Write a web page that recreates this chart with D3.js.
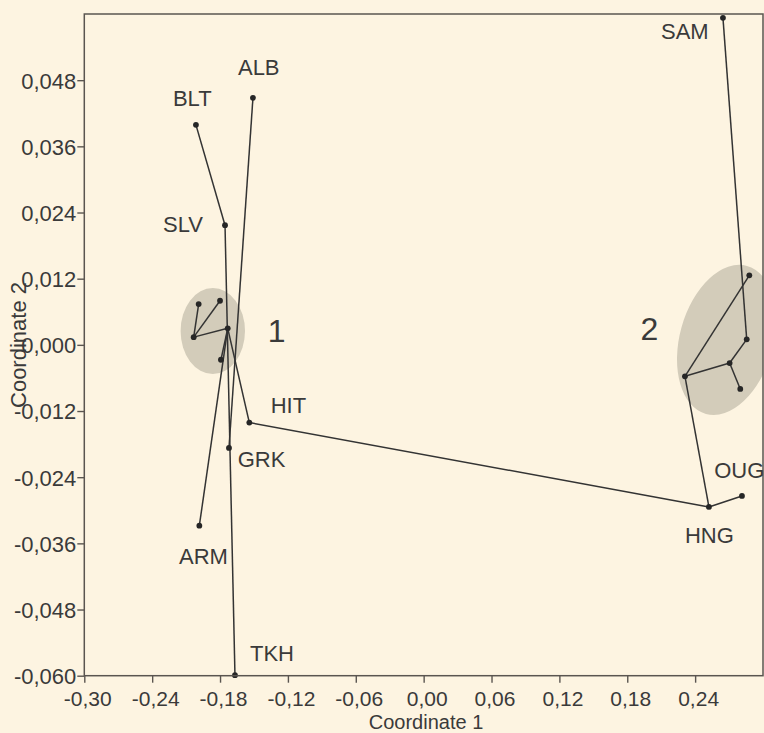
<!DOCTYPE html>
<html>
<head>
<meta charset="utf-8">
<script src="https://cdn.jsdelivr.net/npm/d3@7"></script>
<style>
  html, body { margin: 0; padding: 0; background: #FDF4E1; }
  svg { display: block; }
  text { font-family: "Liberation Sans", Arial, sans-serif; fill: #3a3a3a; }
</style>
</head>
<body>
<svg id="chart" width="764" height="733"></svg>
<script>
// ---- data ----
const names = ["SAM","ALB","BLT","SLV","C1a","C1b","C1c","C1d","C1e","HIT","GRK","ARM","TKH","HNG","OUG","C2a","C2b","C2c","C2d","C2e"];
const coord1 = [0.2646,-0.1509,-0.2013,-0.1756,-0.1989,-0.1800,-0.2033,-0.1732,-0.1792,-0.1541,-0.1721,-0.1983,-0.1668,0.2522,0.2814,0.2879,0.2856,0.2705,0.2310,0.2799];
const coord2 = [0.0593,0.0448,0.0399,0.0217,0.0074,0.0080,0.0014,0.0030,-0.0027,-0.0141,-0.0187,-0.0328,-0.0599,-0.0294,-0.0274,0.0126,0.0010,-0.0033,-0.0057,-0.0080];
const labelled = ["SAM","ALB","BLT","SLV","HIT","GRK","ARM","TKH","HNG","OUG"];
const edgeFrom = ["BLT","SLV","ALB","C1a","C1c","C1c","C1d","C1d","C1d","HIT","HNG","HNG","C2d","C2d","C2c","C2c","C2b"];
const edgeTo   = ["SLV","TKH","GRK","C1c","C1b","C1d","C1e","ARM","HIT","HNG","OUG","C2d","C2a","C2c","C2e","C2b","SAM"];
const clusterNames = ["1","2"];
const clusterX = [-0.1864, 0.2677];
const clusterY = [0.0025, 0.0009];
const xTicks = [-0.30,-0.24,-0.18,-0.12,-0.06,0.00,0.06,0.12,0.18,0.24];
const yTicks = [0.048,0.036,0.024,0.012,0.000,-0.012,-0.024,-0.036,-0.048,-0.060];
const xTitle = "Coordinate 1";
const yTitle = "Coordinate 2";

// ---- layout (styles/positions, not data) ----
const labelOffset = {
  SAM:[-62,21.5], ALB:[-15,-23], BLT:[-23,-19], SLV:[-62,7], HIT:[21.4,-9.7],
  GRK:[8.7,19.3], ARM:[-20.3,38.3], TKH:[15,-14.3], HNG:[-24,36.5], OUG:[-27.7,-18]
};
const ellipseStyle = [
  {rx:32.2, ry:43, rot:0, labelDx:55, labelDy:11},
  {rx:76.8, ry:46.7, rot:-74.5, labelDx:-86, labelDy:0}
];

const L = 84.3, R = 763, T = 14, B = 675.7;
const x = d3.scaleLinear().domain([-0.30, 0.30]).range([L, R]);
const y = d3.scaleLinear().domain([-0.06, 0.06]).range([B, T]);

const fmt = (v, d) => v.toFixed(d).replace(".", ",").replace(/^-0,0+$/, m => m.slice(1));

const svg = d3.select("#chart");
svg.append("rect").attr("width", 764).attr("height", 733).attr("fill", "#FDF4E1");

svg.append("clipPath").attr("id", "plotclip")
  .append("rect").attr("x", L).attr("y", T).attr("width", R - L).attr("height", B - T);

const plot = svg.append("g").attr("clip-path", "url(#plotclip)");

// ellipses
clusterNames.forEach((c, i) => {
  const s = ellipseStyle[i];
  plot.append("ellipse")
    .attr("transform", `translate(${x(clusterX[i])},${y(clusterY[i])}) rotate(${s.rot})`)
    .attr("rx", s.rx).attr("ry", s.ry)
    .attr("fill", "#D3CCBA");
});

const pts = {};
names.forEach((n, i) => pts[n] = {x: coord1[i], y: coord2[i]});

// edges
edgeFrom.forEach((f, i) => {
  const a = pts[f], b = pts[edgeTo[i]];
  plot.append("line")
    .attr("x1", x(a.x)).attr("y1", y(a.y))
    .attr("x2", x(b.x)).attr("y2", y(b.y))
    .attr("stroke", "#333").attr("stroke-width", 1.5);
});

// dots
names.forEach(n => {
  svg.append("circle")
    .attr("cx", x(pts[n].x)).attr("cy", y(pts[n].y))
    .attr("r", 2.9).attr("fill", "#262626");
});

// frame
svg.append("rect").attr("x", L).attr("y", T).attr("width", R - L).attr("height", B - T)
  .attr("fill", "none").attr("stroke", "#5a5550").attr("stroke-width", 1.5);

// axes
const xAxis = d3.axisBottom(x).tickValues(xTicks).tickSize(7).tickFormat(d => fmt(d, 2));
const gx = svg.append("g").attr("transform", `translate(0,${B})`).call(xAxis);
gx.select(".domain").remove();
gx.selectAll(".tick line").attr("stroke", "#5a5550").attr("stroke-width", 1.4);
gx.selectAll(".tick text").attr("font-size", 21).attr("font-family", "Liberation Sans, Arial, sans-serif")
  .attr("fill", "#3a3a3a").attr("dx", 3).attr("y", 30).attr("dy", 0);

const yAxis = d3.axisLeft(y).tickValues(yTicks).tickSize(7).tickFormat(d => fmt(d, 3));
const gy = svg.append("g").attr("transform", `translate(${L},0)`).call(yAxis);
gy.select(".domain").remove();
gy.selectAll(".tick line").attr("stroke", "#5a5550").attr("stroke-width", 1.4);
gy.selectAll(".tick text").attr("font-size", 22).attr("font-family", "Liberation Sans, Arial, sans-serif")
  .attr("fill", "#3a3a3a").attr("x", -8).attr("dy", "0.36em");

// axis titles
svg.append("text").attr("x", 426).attr("y", 728.5).attr("text-anchor", "middle")
  .attr("font-size", 20).text(xTitle);
svg.append("text").attr("transform", "translate(26,345) rotate(-90)").attr("text-anchor", "middle")
  .attr("font-size", 22).text(yTitle);

// point labels
labelled.forEach(n => {
  const o = labelOffset[n];
  svg.append("text").attr("x", x(pts[n].x) + o[0]).attr("y", y(pts[n].y) + o[1])
    .attr("font-size", 22).text(n);
});

// cluster labels
clusterNames.forEach((c, i) => {
  const s = ellipseStyle[i];
  svg.append("text").attr("x", x(clusterX[i]) + s.labelDx).attr("y", y(clusterY[i]) + s.labelDy)
    .attr("font-size", 32).attr("fill", "#222").text(c);
});
</script>
</body>
</html>
